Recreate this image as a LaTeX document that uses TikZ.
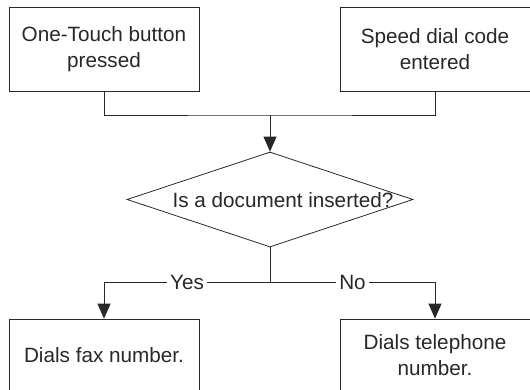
\documentclass[tikz,border=0pt]{standalone}
\usepackage{fontspec}
\setmainfont{Liberation Sans}
\usepackage{tikz}
\usetikzlibrary{positioning,calc,arrows.meta,shapes.geometric}
\definecolor{FlowGray}{RGB}{40,40,40}

\begin{document}
\begin{tikzpicture}[x=1pt, y=-1pt,
					font=\fontsize{20.7}{26.5}\selectfont
					]
					\tikzset{
						fxbox/.style={
							shape=rectangle,
							draw=FlowGray,
							line width=0.8pt,
							fill=white,
							minimum width=190pt,
							inner sep=0pt,
							align=center,
							text=FlowGray
						},
						fxdiamond/.style={
							shape=diamond,
							draw=FlowGray,
							line width=0.8pt,
							minimum width=286pt,
							minimum height=95pt,
							inner sep=0pt
						},
						fxline/.style={draw=FlowGray,line width=0.8pt},
						fxarrow/.style={fxline,-{Triangle[width=13pt,length=15pt]}},
						fxlabel/.style={fill=white,inner sep=3pt,text=FlowGray}
					}
					\useasboundingbox (0,0) rectangle (530,389);
					\clip (0,0) rectangle (530,389);
					
					% starting events
					\node[fxbox, minimum height=84pt] (touch) at (104,49) {One-Touch button\\pressed};
					\node[fxbox, minimum height=84pt] (speed) at (435,49) {Speed dial code\\entered};
					
					% decision
					\node[fxdiamond] (doc) at (270,199.5) {};
					\node[text=FlowGray, inner sep=0pt] (doctext) at (283,200) {Is a document inserted?};
					
					% results
					\node[fxbox, minimum height=72pt] (fax) at (104,355) {Dials fax number.};
					\node[fxbox, minimum height=72pt] (phone) at (435,355) {Dials telephone\\number.};
					
					\coordinate (join) at (270,115);
					\coordinate (split) at (270,282);
					
					\draw[fxline] (touch.south) |- (join) -| (speed.south);
					\draw[fxarrow] (join) -- (doc.north);
					\draw[fxline] (doc.south) -- (split);
					\draw[fxarrow] (split) -| node[pos=0.25, fxlabel]{Yes} (fax.north);
					\draw[fxarrow] (split) -| node[pos=0.25, fxlabel]{No} (phone.north);
				\end{tikzpicture}
\end{document}
